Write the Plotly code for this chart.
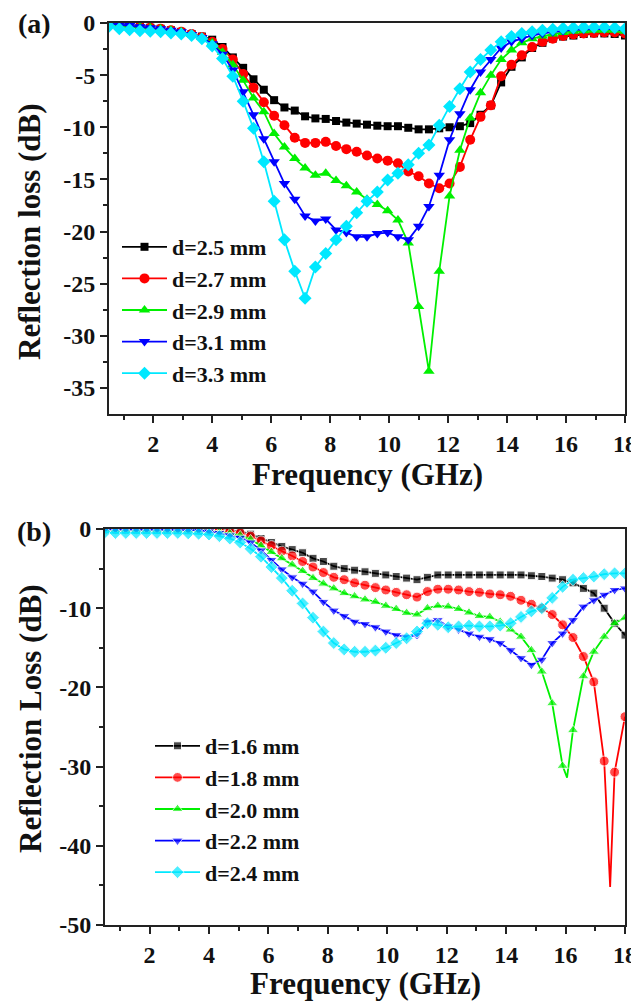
import plotly.graph_objects as go

# Frequency grid (GHz), shared by every curve
freq = [0.5, 0.85, 1.2, 1.55, 1.9, 2.25, 2.6, 2.95, 3.3, 3.65,
        4.0, 4.35, 4.7, 5.05, 5.4, 5.75, 6.1, 6.45, 6.8, 7.15,
        7.5, 7.85, 8.2, 8.55, 8.9, 9.25, 9.6, 9.95, 10.3, 10.65,
        11.0, 11.35, 11.7, 12.05, 12.4, 12.75, 13.1, 13.45, 13.8, 14.15,
        14.5, 14.85, 15.2, 15.55, 15.9, 16.25, 16.6, 16.95, 17.3, 17.65, 18.0]

# panel (a) reflection loss (dB)
rl_a_25 = [-0.05, -0.15, -0.25, -0.35, -0.45, -0.55, -0.7, -0.85, -1.05, -1.3,
           -1.6, -2.3, -3.3, -4.3, -5.4, -6.4, -7.4, -8.1, -8.4, -8.95,
           -9.15, -9.2, -9.4, -9.55, -9.65, -9.75, -9.85, -9.9, -9.9, -10.05,
           -10.2, -10.2, -10.1, -10.0, -9.9, -9.6, -8.8, -7.9, -5.7, -4.2,
           -3.3, -2.4, -1.9, -1.5, -1.3, -1.2, -1.05, -1.0, -1.0, -1.05, -1.2]
rl_a_27 = [-0.05, -0.15, -0.25, -0.35, -0.45, -0.55, -0.7, -0.85, -1.05, -1.35,
           -1.8, -2.5, -3.5, -4.9, -6.2, -7.6, -8.9, -9.8, -11.0, -11.5,
           -11.5, -11.4, -11.8, -12.1, -12.35, -12.7, -13.0, -13.2, -13.45, -14.25,
           -14.7, -15.4, -15.85, -15.4, -13.8, -11.2, -9.0, -7.9, -5.1, -4.0,
           -3.1, -2.3, -1.8, -1.5, -1.25, -1.1, -1.0, -0.95, -0.9, -0.9, -1.0]
rl_a_29 = [-0.05, -0.15, -0.25, -0.35, -0.45, -0.55, -0.7, -0.85, -1.1, -1.4,
           -1.9, -2.8, -4.0, -5.5, -7.2, -8.5, -10.6, -11.9, -13.0, -13.9,
           -14.6, -14.4, -15.1, -15.6, -16.2, -16.9, -17.4, -18.0, -18.9, -21.1,
           -27.2, -33.4, -23.8, -16.6, -12.2, -9.1, -6.7, -5.0, -3.5, -2.6,
           -1.9, -1.5, -1.25, -1.05, -0.9, -0.8, -0.75, -0.7, -0.7, -0.7, -0.8]
rl_a_31 = [-0.05, -0.15, -0.25, -0.35, -0.45, -0.55, -0.7, -0.85, -1.1, -1.4,
           -2.0, -3.0, -4.5, -6.6, -8.8, -11.1, -13.3, -15.4, -16.9, -18.5,
           -19.0, -18.8, -19.85, -20.1, -20.5, -20.5, -20.2, -20.1, -20.5, -20.8,
           -19.5, -17.6, -14.6, -11.2, -8.7, -6.4, -4.7, -3.5, -2.4, -1.8,
           -1.5, -1.2, -1.0, -0.85, -0.75, -0.65, -0.6, -0.55, -0.55, -0.6, -0.7]
rl_a_33 = [-0.3, -0.55, -0.65, -0.75, -0.8, -0.85, -0.95, -1.05, -1.2, -1.5,
           -2.2, -3.4, -5.1, -7.5, -10.1, -13.3, -17.1, -20.8, -23.8, -26.4,
           -23.4, -22.1, -20.8, -19.5, -18.2, -17.1, -16.2, -15.05, -14.4, -13.6,
           -12.5, -11.7, -9.8, -8.0, -6.3, -4.7, -3.5, -2.6, -1.8, -1.3,
           -1.0, -0.85, -0.7, -0.6, -0.5, -0.45, -0.4, -0.4, -0.4, -0.45, -0.55]

# panel (b) reflection loss (dB)
rl_b_16 = [-0.05, -0.05, -0.05, -0.05, -0.05, -0.05, -0.05, -0.05, -0.05, -0.05,
           -0.08, -0.1, -0.15, -0.3, -0.65, -1.2, -1.7, -2.2, -2.6, -3.0,
           -3.7, -4.1, -4.7, -5.0, -5.2, -5.4, -5.6, -5.8, -6.0, -6.2,
           -6.4, -6.1, -5.8, -5.8, -5.8, -5.8, -5.8, -5.8, -5.8, -5.8,
           -5.8, -5.9, -6.0, -6.2, -6.4, -6.8, -7.5, -8.1, -10.0, -11.9, -13.4]
rl_b_18 = [-0.05, -0.05, -0.05, -0.05, -0.05, -0.05, -0.05, -0.05, -0.05, -0.08,
           -0.1, -0.15, -0.3, -0.5, -0.9, -1.5, -2.1, -2.8, -3.4, -4.1,
           -4.8, -5.5, -6.1, -6.4, -6.8, -7.1, -7.4, -7.7, -8.0, -8.3,
           -8.6, -7.9, -7.6, -7.6, -7.7, -7.9, -8.0, -8.2, -8.3, -8.5,
           -9.0, -9.5, -10.0, -10.8, -12.1, -13.7, -16.1, -19.3, -29.3, -30.7, -23.7]
rl_b_20 = [-0.05, -0.05, -0.05, -0.05, -0.05, -0.05, -0.05, -0.08, -0.1, -0.12,
           -0.2, -0.35, -0.55, -0.8, -1.3, -2.1, -2.9, -3.7, -4.5, -5.3,
           -6.2, -6.9, -7.5, -8.1, -8.5, -8.9, -9.2, -9.7, -10.1, -10.6,
           -10.8, -10.0, -9.7, -9.8, -10.1, -10.55, -11.0, -11.1, -11.7, -12.7,
           -13.6, -15.3, -18.0, -22.0, -29.9, -25.4, -18.6, -15.5, -13.6, -11.9, -11.2]
rl_b_22 = [-0.05, -0.05, -0.05, -0.05, -0.05, -0.05, -0.08, -0.1, -0.12, -0.15,
           -0.3, -0.5, -0.8, -1.1, -1.7, -2.7, -3.9, -5.1, -6.1, -6.9,
           -7.9, -9.2, -10.3, -11.0, -11.7, -12.0, -12.4, -12.95, -13.4, -13.6,
           -13.4, -11.7, -11.5, -12.3, -12.7, -13.2, -13.6, -13.9, -14.4, -15.3,
           -16.3, -17.15, -16.5, -14.4, -13.2, -11.5, -9.8, -9.0, -8.3, -7.7, -7.5]
rl_b_24 = [-0.4, -0.5, -0.5, -0.5, -0.5, -0.5, -0.5, -0.5, -0.55, -0.6,
           -0.7, -0.9, -1.2, -1.7, -2.5, -3.5, -4.8, -6.2, -7.8, -9.4,
           -11.2, -12.95, -14.4, -15.2, -15.5, -15.5, -15.35, -15.0, -14.4, -13.8,
           -12.95, -11.9, -12.1, -12.4, -12.3, -12.2, -12.3, -12.3, -12.2, -11.9,
           -11.1, -10.4, -10.0, -8.7, -7.3, -6.4, -6.2, -6.0, -5.7, -5.6, -5.6]

# sharp resonance tips that fall between plotted markers
dip_b_18 = (17.5, -45.2)
dip_b_20 = (16.05, -31.4)

labels_a = ["d=2.5 mm", "d=2.7 mm", "d=2.9 mm", "d=3.1 mm", "d=3.3 mm"]
labels_b = ["d=1.6 mm", "d=1.8 mm", "d=2.0 mm", "d=2.2 mm", "d=2.4 mm"]

colors = ["#000000", "#ff0000", "#00f000", "#0000ff", "#00e8ff"]
symbols = ["square", "circle", "triangle-up", "triangle-down", "diamond"]
msizes = [8, 10, 10, 10, 10]

SERIF = "Liberation Serif"
AXCOL = "#222222"

# the page puts the figure 8 px in from the window corner
W, H, OFF = 631, 995, 8


def px(x):
    return (x - OFF) / W


def py(y):
    return 1 - (y - OFF) / H


def with_dip(xs, ys, dip):
    # insert an extra line vertex (no marker) at the resonance tip
    if dip is None:
        return list(xs), list(ys), [1] * len(xs)
    fx, fy = dip
    xx, yy, show = [], [], []
    for x, y in zip(xs, ys):
        if fx is not None and x > fx:
            xx.append(fx); yy.append(fy); show.append(0)
            fx = None
        xx.append(x); yy.append(y); show.append(1)
    return xx, yy, show


fig = go.Figure()

series_a = [rl_a_25, rl_a_27, rl_a_29, rl_a_31, rl_a_33]
series_b = [rl_b_16, rl_b_18, rl_b_20, rl_b_22, rl_b_24]
dips_b = [None, dip_b_18, dip_b_20, None, None]

for i, ys in enumerate(series_a):
    fig.add_trace(go.Scatter(
        x=freq, y=ys, name=labels_a[i], mode="lines+markers",
        line=dict(color=colors[i], width=1.8),
        marker=dict(symbol=symbols[i], size=msizes[i], color=colors[i]),
        xaxis="x", yaxis="y", legend="legend"))

for i, ys in enumerate(series_b):
    xx, yy, show = with_dip(freq, ys, dips_b[i])
    fig.add_trace(go.Scatter(
        x=xx, y=yy, name=labels_b[i], mode="lines+markers",
        line=dict(color=colors[i], width=1.8),
        marker=dict(symbol=symbols[i], size=[msizes[i] * s for s in show], color=colors[i]),
        xaxis="x2", yaxis="y2", legend="legend2"))

tickfont = dict(family=SERIF, size=24, color="#111111", weight="bold")


def xaxis_style(domain, anchor):
    return dict(
        domain=domain, anchor=anchor, range=[0.5, 18], automargin=False,
        tickmode="array", tickvals=[2, 4, 6, 8, 10, 12, 14, 16, 18],
        ticks="outside", ticklen=7, tickwidth=2, tickcolor=AXCOL,
        minor=dict(tickvals=[1, 3, 5, 7, 9, 11, 13, 15, 17], ticks="outside",
                   ticklen=4, tickwidth=2, tickcolor=AXCOL),
        showline=True, linewidth=2, linecolor=AXCOL, mirror=True,
        showgrid=False, zeroline=False, tickfont=tickfont)


yt_a = [0, -5, -10, -15, -20, -25, -30, -35]
yt_b = [0, -10, -20, -30, -40, -50]


def yaxis_style(domain, anchor, rng, vals, minor_vals):
    return dict(
        domain=domain, anchor=anchor, range=rng, automargin=False,
        tickmode="array", tickvals=vals, ticktext=[str(v) for v in vals],
        ticks="outside", ticklen=7, tickwidth=2, tickcolor=AXCOL,
        minor=dict(tickvals=minor_vals, ticks="outside",
                   ticklen=4, tickwidth=2, tickcolor=AXCOL),
        showline=True, linewidth=2, linecolor=AXCOL, mirror=True,
        showgrid=False, zeroline=False, tickfont=tickfont)


legend_font = dict(family=SERIF, size=22, color="#111111", weight="bold")

fig.update_layout(
    width=W, height=H,
    margin=dict(l=0, r=0, t=0, b=0),
    paper_bgcolor="white", plot_bgcolor="white",
    showlegend=True,
    xaxis=xaxis_style([px(109), px(625)], "y"),
    yaxis=yaxis_style([py(414), py(23)], "x", [-37.5, 0], yt_a,
                      [-2.5, -7.5, -12.5, -17.5, -22.5, -27.5, -32.5]),
    xaxis2=xaxis_style([px(105), px(625)], "y2"),
    yaxis2=yaxis_style([py(925), py(529)], "x2", [-50, 0], yt_b,
                       [-5, -15, -25, -35, -45]),
    legend=dict(x=px(117), y=py(226), xanchor="left", yanchor="top", itemwidth=45,
                bgcolor="rgba(0,0,0,0)", font=legend_font, tracegroupgap=0),
    legend2=dict(x=px(150), y=py(725), xanchor="left", yanchor="top", itemwidth=45,
                 bgcolor="rgba(0,0,0,0)", font=legend_font, tracegroupgap=0),
)

title_font = dict(family=SERIF, size=31, color="#111111", weight="bold")
label_font = dict(family=SERIF, size=28, color="#111111", weight="bold")

annots = [
    dict(text="Reflection loss (dB)", x=px(30), y=py(232), textangle=-90, yanchor="middle"),
    dict(text="Frequency (GHz)", x=px(367), y=py(475), yanchor="middle"),
    dict(text="Reflection Loss (dB)", x=px(30), y=py(719), textangle=-90, yanchor="middle"),
    dict(text="Frequency (GHz)", x=px(365), y=0.0, yanchor="bottom"),
    dict(text="(a)", x=px(34), y=py(24), yanchor="middle"),
    dict(text="(b)", x=px(34), y=py(531), yanchor="middle"),
]
for a in annots:
    f = label_font if a["text"] in ("(a)", "(b)") else title_font
    fig.add_annotation(xref="paper", yref="paper", showarrow=False,
                       xanchor="center", font=f, **a)

fig.write_html("out.html")
